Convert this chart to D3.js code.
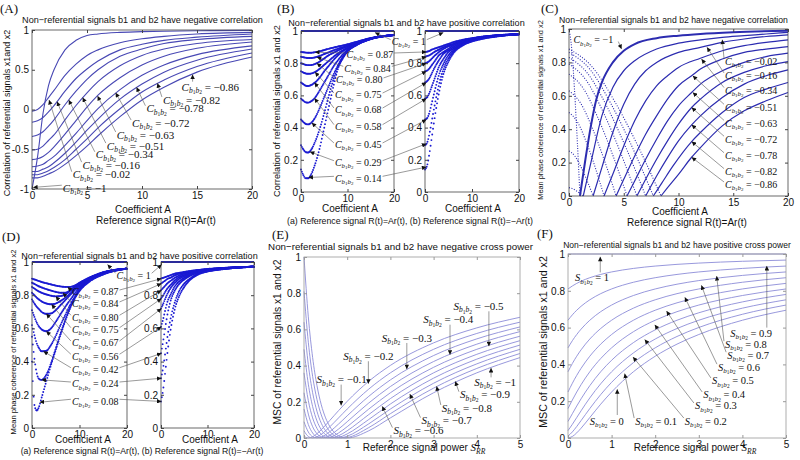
<!DOCTYPE html>
<html><head><meta charset="utf-8">
<script src="https://cdn.jsdelivr.net/npm/d3@7"></script>
<style>body{margin:0;background:#fff}svg{display:block}</style>
</head><body>
<svg id="c" width="800" height="460"></svg>
<script>
// ---------------- DATA ----------------
// Panel A: correlation vs coefficient A (negative b1,b2 correlation)
const aA = [0,0.5,1,1.5,2,3,4,5,6,8,10,12,15,20];
const aCorr = [
 [-1,-0.6,-0.05,0.3,0.5,0.75,0.87,0.93,0.95,0.97,0.98,0.985,0.99,0.995],
 [-0.02,0,0.06,0.15,0.24,0.43,0.57,0.68,0.75,0.84,0.89,0.92,0.95,0.97],
 [-0.16,-0.14,-0.10,-0.03,0.05,0.23,0.39,0.51,0.61,0.75,0.82,0.87,0.91,0.95],
 [-0.34,-0.32,-0.28,-0.21,-0.13,0.06,0.23,0.38,0.50,0.67,0.76,0.83,0.88,0.92],
 [-0.51,-0.50,-0.46,-0.39,-0.32,-0.13,0.05,0.21,0.35,0.55,0.68,0.76,0.83,0.88],
 [-0.63,-0.62,-0.59,-0.54,-0.47,-0.31,-0.14,0.03,0.18,0.40,0.56,0.67,0.77,0.85],
 [-0.72,-0.71,-0.69,-0.64,-0.59,-0.45,-0.30,-0.14,0.01,0.25,0.43,0.56,0.69,0.80],
 [-0.78,-0.78,-0.75,-0.72,-0.67,-0.55,-0.41,-0.26,-0.12,0.13,0.32,0.47,0.62,0.76],
 [-0.82,-0.82,-0.80,-0.77,-0.73,-0.63,-0.50,-0.37,-0.23,0.01,0.22,0.37,0.54,0.71],
 [-0.86,-0.86,-0.84,-0.81,-0.78,-0.69,-0.58,-0.46,-0.33,-0.09,0.12,0.28,0.47,0.66]
];
const annA = [
 {t:"−1", lab:[2.8,-0.99], tip:[0.1,-0.98]},
 {t:"−0.02", lab:[3.7,-0.82], tip:[1.55,0.12]},
 {t:"−0.16", lab:[4.6,-0.70], tip:[2.28,0.10]},
 {t:"−0.34", lab:[5.8,-0.57], tip:[3.34,0.12]},
 {t:"−0.51", lab:[6.8,-0.46], tip:[4.6,0.15]},
 {t:"−0.63", lab:[7.7,-0.32], tip:[5.96,0.17]},
 {t:"−0.72", lab:[9.1,-0.17], tip:[7.6,0.21]},
 {t:"−0.78", lab:[10.4,0.01], tip:[9.5,0.28]},
 {t:"−0.82", lab:[11.9,0.12], tip:[11.4,0.33]},
 {t:"−0.86", lab:[13.6,0.28], tip:[14.6,0.44], from:[14.6,0.35]}
];

// Panel B: correlation, positive b1,b2 correlation; (a) R=Ar, (b) R=-Ar
const bA = [0,0.5,1,1.5,2,3,4,5,6,7,8,9,10,12,15,20];
const bLeft = [
 [.87,.868,.866,.865,.865,.868,.874,.882,.89,.897,.904,.91,.917,.933,.956,.975],
 [.84,.837,.834,.832,.832,.836,.845,.857,.868,.88,.89,.90,.91,.93,.955,.975],
 [.80,.795,.79,.788,.788,.795,.81,.83,.85,.865,.88,.893,.905,.928,.954,.975],
 [.75,.742,.736,.734,.735,.745,.765,.79,.815,.84,.862,.88,.895,.925,.953,.975],
 [.68,.67,.66,.658,.662,.68,.71,.75,.785,.82,.85,.875,.895,.925,.953,.975],
 [.58,.567,.557,.555,.56,.585,.63,.68,.73,.78,.82,.855,.885,.92,.952,.975],
 [.45,.435,.423,.42,.425,.46,.52,.59,.66,.73,.79,.84,.878,.918,.95,.975],
 [.29,.265,.248,.245,.255,.31,.39,.49,.60,.70,.78,.835,.875,.915,.95,.975],
 [.14,.105,.085,.085,.10,.17,.27,.40,.53,.66,.77,.83,.872,.913,.95,.975]
];
const bAr = [0,0.5,1,1.5,2,3,4,5,6,8,10,12,15,20];
const bRight = [
 [.87,.872,.877,.885,.89,.90,.91,.92,.93,.945,.955,.964,.973,.98],
 [.84,.845,.85,.86,.87,.885,.90,.91,.92,.942,.953,.963,.972,.98],
 [.80,.805,.815,.83,.845,.87,.89,.905,.915,.94,.952,.962,.972,.98],
 [.75,.755,.77,.79,.81,.85,.87,.89,.91,.935,.95,.96,.97,.98],
 [.68,.69,.71,.74,.77,.82,.86,.88,.90,.93,.947,.958,.97,.98],
 [.58,.59,.62,.66,.70,.78,.83,.87,.89,.925,.945,.957,.969,.98],
 [.45,.46,.50,.56,.62,.73,.80,.85,.88,.92,.94,.955,.968,.98],
 [.29,.31,.37,.45,.53,.67,.77,.83,.87,.915,.94,.955,.967,.98],
 [.14,.17,.25,.35,.45,.62,.74,.81,.86,.91,.935,.95,.965,.98]
];
const annB = [
 {t:"1", lab:[19.5,0.934], tl:[15.9,0.99], tr:[3.9,0.99]},
 {t:"0.87", lab:[9.8,0.851], tl:[3.0,0.868], tr:[0.3,0.87]},
 {t:"0.84", lab:[9.3,0.768], tl:[3.4,0.838], tr:[0.3,0.84]},
 {t:"0.80", lab:[7.5,0.696], tl:[3.4,0.80], tr:[0.3,0.80]},
 {t:"0.75", lab:[7.3,0.602], tl:[3.0,0.745], tr:[0.3,0.75]},
 {t:"0.68", lab:[7.3,0.509], tl:[2.9,0.68], tr:[0.3,0.68]},
 {t:"0.58", lab:[7.3,0.406], tl:[2.9,0.583], tr:[0.3,0.58]},
 {t:"0.45", lab:[7.3,0.292], tl:[2.3,0.43], tr:[0.3,0.45]},
 {t:"0.29", lab:[7.3,0.182], tl:[1.9,0.25], tr:[0.3,0.30]},
 {t:"0.14", lab:[7.3,0.085], tl:[1.6,0.09], tr:[0.3,0.155]}
];

// Panel C: mean phase coherence, negative correlation (falling dotted part, rising solid part)
const cDesc = [
 [[0,1],[0.25,0.88],[0.5,0.64],[0.75,0.34],[1,0]],
 [[0,0.05],[0.33,0.044],[0.65,0.032],[0.98,0.017],[1.3,0]],
 [[0,0.27],[0.55,0.238],[1.1,0.173],[1.65,0.092],[2.2,0]],
 [[0,0.5],[0.8,0.44],[1.6,0.32],[2.4,0.17],[3.2,0]],
 [[0,0.63],[1.08,0.554],[2.15,0.403],[3.23,0.214],[4.3,0]],
 [[0,0.73],[1.33,0.642],[2.65,0.467],[3.98,0.248],[5.3,0]],
 [[0,0.79],[1.55,0.695],[3.1,0.506],[4.65,0.269],[6.2,0]],
 [[0,0.83],[1.75,0.73],[3.5,0.531],[5.25,0.282],[7,0]],
 [[0,0.86],[1.93,0.757],[3.85,0.55],[5.78,0.292],[7.7,0]],
 [[0,0.88],[2.1,0.774],[4.2,0.563],[6.3,0.299],[8.4,0]]
];
const cRise = [
 [[1,0],[1.5,0.22],[2,0.42],[2.5,0.58],[3,0.68],[4,0.8],[5,0.87],[6,0.91],[8,0.945],[10,0.96],[12,0.97],[15,0.98],[20,0.99]],
 [[1.3,0],[2,0.2],[3,0.48],[4,0.65],[5,0.75],[6,0.81],[8,0.88],[10,0.915],[12,0.935],[14,0.95],[16,0.96],[18,0.97],[20,0.98]],
 [[2.2,0],[3,0.17],[4,0.38],[5,0.55],[6,0.67],[7,0.75],[8,0.8],[10,0.86],[12,0.89],[14,0.92],[16,0.94],[18,0.955],[20,0.965]],
 [[3.2,0],[4,0.13],[5,0.3],[6,0.45],[7,0.57],[8,0.66],[9,0.72],[10,0.77],[12,0.825],[14,0.87],[16,0.9],[18,0.92],[20,0.935]],
 [[4.3,0],[5,0.1],[6,0.24],[7,0.37],[8,0.48],[9,0.58],[10,0.66],[11.2,0.72],[12,0.76],[14,0.82],[16,0.86],[18,0.88],[20,0.895]],
 [[5.3,0],[6,0.09],[7,0.22],[8,0.34],[9,0.45],[10,0.54],[11.2,0.62],[12,0.67],[14,0.75],[16,0.8],[18,0.835],[20,0.855]],
 [[6.2,0],[7,0.1],[8,0.22],[9,0.33],[10,0.43],[11.2,0.53],[12,0.58],[14,0.68],[16,0.74],[18,0.78],[20,0.805]],
 [[7,0],[8,0.12],[9,0.23],[10,0.33],[11.2,0.426],[12,0.48],[14,0.59],[16,0.67],[18,0.72],[20,0.755]],
 [[7.7,0],[8.5,0.08],[9.5,0.18],[11.2,0.326],[12,0.38],[14,0.5],[16,0.59],[18,0.64],[20,0.68]],
 [[8.4,0],[9,0.05],[10,0.13],[11.2,0.232],[12,0.29],[14,0.42],[16,0.51],[18,0.57],[20,0.62]]
];
const annC = [
 {t:"−1", lab:[0.4,0.934], tip:[4.8,0.88], from:[4.5,0.925]},
 {t:"−0.02", lab:[14.25,0.804], tip:[14.0,0.936]},
 {t:"−0.16", lab:[14.25,0.719], tip:[12.6,0.89]},
 {t:"−0.34", lab:[14.25,0.631], tip:[12.1,0.82]},
 {t:"−0.51", lab:[14.25,0.531], tip:[11.3,0.72]},
 {t:"−0.63", lab:[14.25,0.435], tip:[11.3,0.62]},
 {t:"−0.72", lab:[14.25,0.34], tip:[11.2,0.53]},
 {t:"−0.78", lab:[14.25,0.241], tip:[11.2,0.426]},
 {t:"−0.82", lab:[14.25,0.146], tip:[11.2,0.326]},
 {t:"−0.86", lab:[14.25,0.066], tip:[11.2,0.232]}
];

// Panel D: mean phase coherence, positive correlation
const dA = [0,0.5,1,1.5,2,3,4,5,6,7,8,9,10,12,15,20];
const dLeft = [
 [.90,.895,.89,.885,.88,.872,.865,.858,.853,.85,.85,.858,.875,.905,.938,.96],
 [.875,.868,.86,.853,.847,.837,.828,.82,.815,.815,.828,.852,.872,.903,.937,.96],
 [.85,.84,.83,.822,.815,.805,.797,.793,.795,.805,.825,.848,.868,.90,.936,.96],
 [.815,.80,.785,.773,.763,.75,.745,.75,.765,.785,.81,.84,.862,.898,.935,.96],
 [.775,.75,.73,.715,.70,.688,.69,.71,.74,.77,.80,.83,.855,.895,.934,.96],
 [.71,.67,.635,.61,.595,.583,.60,.64,.685,.73,.77,.81,.845,.892,.932,.96],
 [.62,.56,.51,.48,.462,.465,.50,.555,.62,.68,.74,.79,.835,.888,.93,.96],
 [.55,.42,.33,.295,.29,.32,.39,.48,.57,.65,.725,.785,.83,.885,.928,.96],
 [.40,.14,.105,.13,.18,.28,.38,.47,.56,.645,.72,.78,.825,.88,.925,.96]
];
const dAr = [0,0.5,1,1.5,2,3,4,5,6,8,10,12,15,20];
const dRight = [
 [.90,.905,.91,.915,.92,.93,.935,.94,.945,.952,.958,.962,.967,.972],
 [.87,.88,.89,.90,.905,.92,.93,.935,.94,.95,.956,.961,.966,.972],
 [.83,.845,.86,.875,.885,.905,.92,.93,.937,.948,.955,.96,.966,.972],
 [.78,.80,.825,.845,.86,.89,.91,.922,.932,.945,.953,.959,.965,.972],
 [.72,.75,.785,.815,.84,.875,.90,.915,.927,.943,.952,.958,.965,.972],
 [.61,.66,.72,.77,.80,.855,.885,.905,.92,.94,.95,.957,.964,.972],
 [.45,.53,.62,.70,.76,.83,.87,.895,.913,.937,.948,.956,.964,.972],
 [.30,.37,.47,.57,.65,.76,.83,.87,.895,.93,.945,.954,.962,.972],
 [.16,.24,.36,.48,.58,.72,.80,.85,.885,.925,.943,.952,.962,.972]
];
const annD = [
 {t:"1", lab:[17.8,0.92], tl:[15.9,0.985], tr:[0.15,0.985]},
 {t:"0.87", lab:[8.4,0.819], tl:[7.5,0.85], tr:[0.1,0.90]},
 {t:"0.84", lab:[8.4,0.747], tl:[6.5,0.815], tr:[0.1,0.87]},
 {t:"0.80", lab:[8.4,0.667], tl:[5.0,0.793], tr:[0.1,0.83]},
 {t:"0.75", lab:[8.4,0.592], tl:[4.1,0.745], tr:[0.1,0.78]},
 {t:"0.67", lab:[8.4,0.512], tl:[3.0,0.688], tr:[0.1,0.72]},
 {t:"0.56", lab:[8.4,0.432], tl:[3.0,0.583], tr:[0.1,0.61]},
 {t:"0.42", lab:[8.4,0.351], tl:[2.4,0.462], tr:[0.1,0.45]},
 {t:"0.24", lab:[8.4,0.265], tl:[2.0,0.29], tr:[0.1,0.30]},
 {t:"0.08", lab:[8.4,0.161], tl:[1.6,0.155], tr:[0.1,0.16]}
];

// Panel E: MSC vs reference power, negative cross power
const eX = [0,0.1,0.2,0.3,0.4,0.5,0.6,0.7,0.8,0.9,1,1.5,2,3,4,5];
const eMSC = [
 [0.01,0,0.0069,0.0237,0.0459,0.0711,0.0977,0.1246,0.1512,0.1773,0.2025,0.3136,0.4011,0.5256,0.6084,0.6669],
 [0.04,0.0083,0,0.0059,0.0204,0.04,0.0625,0.0865,0.1111,0.1357,0.16,0.2704,0.36,0.49,0.5776,0.64],
 [0.09,0.0331,0.0069,0,0.0051,0.0178,0.0352,0.0554,0.0772,0.0997,0.1225,0.2304,0.3211,0.4556,0.5476,0.6136],
 [0.16,0.0744,0.0278,0.0059,0,0.0044,0.0156,0.0311,0.0494,0.0693,0.09,0.1936,0.2844,0.4225,0.5184,0.5878],
 [0.25,0.1322,0.0625,0.0237,0.0051,0,0.0039,0.0138,0.0278,0.0443,0.0625,0.16,0.25,0.3906,0.49,0.5625],
 [0.36,0.2066,0.1111,0.0533,0.0204,0.0044,0,0.0035,0.0123,0.0249,0.04,0.1296,0.2178,0.36,0.4624,0.5378],
 [0.49,0.2975,0.1736,0.0947,0.0459,0.0178,0.0039,0,0.0031,0.0111,0.0225,0.1024,0.1878,0.3306,0.4356,0.5136],
 [0.64,0.405,0.25,0.1479,0.0816,0.04,0.0156,0.0035,0,0.0028,0.01,0.0784,0.16,0.3025,0.4096,0.49],
 [0.81,0.5289,0.3403,0.213,0.1276,0.0711,0.0352,0.0138,0.0031,0,0.0025,0.0576,0.1344,0.2756,0.3844,0.4669],
 [1,0.6694,0.4444,0.2899,0.1837,0.1111,0.0625,0.0311,0.0123,0.0028,0,0.04,0.1111,0.25,0.36,0.4444]
];
const annE = [
 {t:"−0.1", lab:[0.29,0.322], tip:[0.86,0.18], from:[0.86,0.295]},
 {t:"−0.2", lab:[0.91,0.451], tip:[1.49,0.30], from:[1.49,0.424]},
 {t:"−0.3", lab:[1.80,0.552], tip:[2.38,0.38], from:[2.38,0.525]},
 {t:"−0.4", lab:[2.76,0.654], tip:[3.38,0.46], from:[3.38,0.626]},
 {t:"−0.5", lab:[3.46,0.727], tip:[4.28,0.507], from:[4.28,0.70]},
 {t:"−0.6", lab:[2.07,0.041], tip:[1.81,0.175]},
 {t:"−0.7", lab:[2.72,0.096], tip:[2.45,0.243]},
 {t:"−0.8", lab:[3.19,0.166], tip:[3.07,0.286]},
 {t:"−0.9", lab:[3.61,0.239], tip:[3.5,0.313]},
 {t:"−1", lab:[3.94,0.309], tip:[4.33,0.387], from:[4.33,0.335]}
];

// Panel F: MSC, positive cross power
const fX = [0,0.1,0.2,0.3,0.5,0.75,1,1.5,2,2.5,3,4,5];
const fMSC = [
 [0,.0083,.0278,.0533,.1111,.1837,.25,.36,.4444,.5102,.5625,.64,.6944],
 [.01,.0331,.0625,.0947,.16,.2359,.3025,.4096,.49,.5518,.6006,.6724,.7225],
 [.04,.0744,.1111,.1479,.2178,.2947,.36,.4624,.5378,.5951,.64,.7056,.7511],
 [.09,.1322,.1736,.213,.2844,.36,.4225,.5184,.5878,.64,.6806,.7396,.7803],
 [.16,.2066,.25,.2899,.36,.4318,.49,.5776,.64,.6865,.7225,.7744,.81],
 [.25,.2975,.3403,.3787,.4444,.5102,.5625,.64,.6944,.7347,.7656,.81,.8403],
 [.36,.405,.4444,.4793,.5378,.5951,.64,.7056,.7511,.7845,.81,.8464,.8711],
 [.49,.5289,.5625,.5917,.64,.6865,.7225,.7744,.81,.8359,.8556,.8836,.9025],
 [.64,.6694,.6944,.716,.7511,.7845,.81,.8464,.8711,.889,.9025,.9216,.9344],
 [.81,.8264,.8403,.8521,.8711,.889,.9025,.9216,.9344,.9437,.9506,.9604,.9669],
 [1,1,1,1,1,1,1,1,1,1,1,1,1]
];
const annF = [
 {t:"0", lab:[0.5,0.092], tip:[1.13,0.265], from:[1.13,0.125]},
 {t:"0.1", lab:[1.54,0.092], tip:[1.30,0.35]},
 {t:"0.2", lab:[2.68,0.092], tip:[1.49,0.44]},
 {t:"0.3", lab:[2.91,0.174], tip:[1.76,0.535]},
 {t:"0.4", lab:[3.1,0.234], tip:[1.99,0.615]},
 {t:"0.5", lab:[3.3,0.31], tip:[2.26,0.69]},
 {t:"0.6", lab:[3.44,0.385], tip:[2.68,0.765]},
 {t:"0.7", lab:[3.65,0.45], tip:[3.06,0.83]},
 {t:"0.8", lab:[3.60,0.51], tip:[3.41,0.88]},
 {t:"0.9", lab:[3.72,0.57], tip:[4.56,0.935], from:[4.56,0.60]},
 {t:"1", lab:[0.16,0.87], tip:[0.74,0.985], from:[0.74,0.90]}
];

// ---------------- DRAWING ----------------
const svg = d3.select("#c");
const SANS = "'Liberation Sans',Arial,Helvetica,sans-serif";
const SER = "'Liberation Serif','DejaVu Serif','Times New Roman',serif";
svg.append("defs").append("marker").attr("id","ah").attr("viewBox","0 0 10 10")
  .attr("refX",10).attr("refY",5).attr("markerUnits","userSpaceOnUse")
  .attr("markerWidth",5).attr("markerHeight",4.5).attr("orient","auto")
  .append("path").attr("d","M0,0L10,5L0,10z").attr("fill","#111");

function frame(o){
  const x = d3.scaleLinear().domain(o.xd).range([o.l,o.r]);
  const y = d3.scaleLinear().domain(o.yd).range([o.b,o.t]);
  const g = svg.append("g");
  const cg = g.append("g");
  const ag = g.append("g");
  const fmt = d => String(d);
  const mk = (gen,tr) => {
    const a = ag.append("g").attr("transform",tr).call(gen);
    a.select(".domain").remove();
    a.selectAll(".tick line").attr("stroke",o.box);
    a.selectAll(".tick text").attr("font-size",10).attr("fill","#111").attr("font-family",SANS);
  };
  mk(d3.axisBottom(x).tickValues(o.xt).tickSize(-3).tickPadding(3).tickFormat(fmt),`translate(0,${o.b})`);
  mk(d3.axisTop(x).tickValues(o.xt).tickSize(-3).tickFormat(""),`translate(0,${o.t})`);
  mk(d3.axisLeft(y).tickValues(o.yt).tickSize(-3).tickPadding(3).tickFormat(fmt),`translate(${o.l},0)`);
  mk(d3.axisRight(y).tickValues(o.yt).tickSize(-3).tickFormat(""),`translate(${o.r},0)`);
  ag.append("rect").attr("x",o.l).attr("y",o.t).attr("width",o.r-o.l).attr("height",o.b-o.t)
    .attr("fill","none").attr("stroke",o.box).attr("stroke-width",0.8);
  return {x,y,g:cg};
}
const lineOf = p => d3.line().x(d=>p.x(d[0])).y(d=>p.y(d[1])).curve(d3.curveMonotoneX);
const zip = (xs,ys) => xs.map((v,i)=>[v,ys[i]]);
function curve(p, pts, color, w, dash){
  const s = p.g.append("path").attr("d",lineOf(p)(pts)).attr("fill","none")
    .attr("stroke",color).attr("stroke-width",w);
  if (dash) s.attr("stroke-dasharray",dash);
}
// marker-style series: one dot per fixed horizontal step, along the drawn curve
function dots(p, pts, color, r, dx){
  const node = p.g.append("path").attr("d",lineOf(p)(pts)).attr("fill","none").attr("stroke","none").node();
  const L = node.getTotalLength();
  const out = [];
  let nx = p.x(pts[0][0]);
  for (let s=0; s<=L; s+=0.3){
    const q = node.getPointAtLength(s);
    if (q.x >= nx - 1e-6){ out.push([q.x,q.y]); nx += dx; }
  }
  p.g.append("g").selectAll("circle").data(out).join("circle")
    .attr("cx",d=>d[0]).attr("cy",d=>d[1]).attr("r",r).attr("fill",color);
}
// text whose font size is scaled so that its natural width equals w
function txt(x,y,s,o={}){
  const t = svg.append("text").attr("x",x).attr("y",y).text(s)
    .attr("font-size",o.fs||10).attr("text-anchor",o.anchor||"middle")
    .attr("font-family",o.ff||SANS).attr("fill","#111");
  if (o.w){
    const w0 = t.node().getComputedTextLength();
    if (w0>0) t.attr("font-size",(o.fs||10)*o.w/w0);
  }
  if (o.rot) t.attr("transform",`rotate(-90,${x},${y})`);
  return t;
}
function mkLabel(X,Y,sym,val,fs){
  const t = svg.append("text").attr("x",X).attr("y",Y+fs*0.33).attr("font-family",SER)
    .attr("font-size",fs).attr("fill","#111");
  t.append("tspan").attr("font-style","italic").text(sym);
  const s1 = fs*0.68, s2 = fs*0.5;
  t.append("tspan").attr("font-style","italic").attr("font-size",s1).attr("dy",fs*0.22).text("b");
  t.append("tspan").attr("font-size",s2).attr("dy",fs*0.1).text("1");
  t.append("tspan").attr("font-style","italic").attr("font-size",s1).attr("dy",-fs*0.1).text("b");
  t.append("tspan").attr("font-size",s2).attr("dy",fs*0.1).text("2");
  t.append("tspan").attr("dy",-fs*0.32).text(" = "+val);
  return t;
}
function arrow(x1,y1,x2,y2){
  svg.append("line").attr("x1",x1).attr("y1",y1).attr("x2",x2).attr("y2",y2)
    .attr("stroke","#555").attr("stroke-width",0.6).attr("marker-end","url(#ah)");
}
function annotate(p, list, sym, fs){
  list.forEach(a=>{
    const X = p.x(a.lab[0]), Y = p.y(a.lab[1]);
    mkLabel(X,Y,sym,a.t,fs);
    const f = a.from ? [p.x(a.from[0]),p.y(a.from[1])] : [X-1,Y-3];
    arrow(f[0],f[1],p.x(a.tip[0]),p.y(a.tip[1]));
  });
}
function annotate2(pl, pr, list, sym, fs){
  list.forEach(a=>{
    const X = pl.x(a.lab[0]), Y = pl.y(a.lab[1]);
    const t = mkLabel(X,Y,sym,a.t,fs);
    const w = t.node().getComputedTextLength();
    arrow(X-1,Y-2,pl.x(a.tl[0]),pl.y(a.tl[1]));
    arrow(X+w+1,Y-2,pr.x(a.tr[0]),pr.y(a.tr[1]));
  });
}

const yt01 = [0,0.2,0.4,0.6,0.8,1];
// ---- Panel A ----
const pA = frame({l:32,r:252,t:30,b:189,xd:[0,20],yd:[-1,1],xt:[0,5,10,15,20],yt:[-1,-0.5,0,0.5,1],box:"#444"});
aCorr.forEach(ys=>curve(pA,zip(aA,ys),"#4848b4",1.1));
// ---- Panel B ----
const pBL = frame({l:301,r:394,t:31,b:192,xd:[0,20],yd:[0,1],xt:[0,10,20],yt:yt01,box:"#444"});
const pBR = frame({l:425,r:519,t:31,b:192,xd:[0,20],yd:[0,1],xt:[0,10,20],yt:yt01,box:"#444"});
[pBL,pBR].forEach(p=>curve(p,[[0,1],[20,1]],"#1a1ad2",1.8));
bLeft.forEach(ys=>dots(pBL,zip(bA,ys),"#1a1ad2",0.95,0.8));
bRight.forEach(ys=>dots(pBR,zip(bAr,ys),"#1a1ad2",0.95,0.8));
// ---- Panel C ----
const pC = frame({l:569,r:788,t:29,b:196,xd:[0,20],yd:[0,1],xt:[0,5,10,15,20],yt:yt01,box:"#444"});
cDesc.forEach(pts=>curve(pC,pts,"#2c2cb0",1.1,"1,1.6"));
cRise.forEach((pts,i)=>curve(pC,pts,"#2c2cb0",i===0?2:1.2));
// ---- Panel D ----
const pDL = frame({l:32,r:127,t:262,b:428,xd:[0,20],yd:[0,1],xt:[0,10,20],yt:yt01,box:"#444"});
const pDR = frame({l:161,r:254,t:262,b:428,xd:[0,20],yd:[0,1],xt:[0,10,20],yt:yt01,box:"#444"});
[pDL,pDR].forEach(p=>curve(p,[[0,1],[20,1]],"#1a1ad2",1.8));
dLeft.forEach(ys=>dots(pDL,zip(dA,ys),"#1a1ad2",0.95,0.8));
dRight.forEach(ys=>dots(pDR,zip(dAr,ys),"#1a1ad2",0.95,0.8));
// ---- Panel E ----
const pE = frame({l:304,r:520,t:257,b:438,xd:[0,5],yd:[0,1],xt:[0,1,2,3,4,5],yt:yt01,box:"#999"});
eMSC.forEach(ys=>curve(pE,zip(eX,ys),"#8c8cd8",0.9));
// ---- Panel F ----
const pF = frame({l:568,r:786,t:254,b:438,xd:[0,5],yd:[0,1],xt:[0,1,2,3,4,5],yt:yt01,box:"#999"});
fMSC.forEach(ys=>curve(pF,zip(fX,ys),"#8c8cd8",0.9));

// ---- annotations ----
annotate(pA, annA, "C", 11);
annotate2(pBL, pBR, annB, "C", 10);
annotate(pC, annC, "C", 10);
annotate2(pDL, pDR, annD, "C", 10);
annotate(pE, annE, "S", 11);
annotate(pF, annF, "S", 10.5);

// ---- texts ----
const panelLetters = [["(A)",0,13],["(B)",277,13],["(C)",541,13],["(D)",2,241],["(E)",272,239],["(F)",537,238]];
panelLetters.forEach(d=>txt(d[1],d[2],d[0],{fs:13,ff:SER,anchor:"start"}));

txt(142.5,23,"Non−referential signals b1 and b2 have negative correlation",{fs:9.5,w:241});
txt(406.5,26,"Non−referential signals b1 and b2 have positive correlation",{fs:9.5,w:237});
txt(673.5,23,"Non−referential signals b1 and b2 have negative correlation",{fs:9.5,w:229});
txt(139.5,259,"Non−referential signals b1 and b2 have positive correlation",{fs:9.5,w:237});
txt(400.5,250,"Non−referential signals b1 and b2 have negative cross power",{fs:9.5,w:265});
txt(677,248,"Non−referential signals b1 and b2 have positive cross power",{fs:9.5,w:228});

txt(9.5,113,"Correlation of referential signals x1and x2",{fs:9,w:167,rot:true});
txt(280,111,"Correlation of referential signals x1 and x2",{fs:9,w:172,rot:true});
txt(543,110,"Mean phase coherence of referential signals x1 and x2",{fs:7.5,w:180,rot:true});
txt(16,342,"Mean phase coherence of referential signals x1 and x2",{fs:7.5,w:185,rot:true});
txt(281,342,"MSC of referential signals x1 and x2",{fs:9.5,w:165,rot:true});
txt(547,342,"MSC of referential signals x1 and x2",{fs:9.5,w:172,rot:true});

txt(143,213,"Coefficient A",{fs:10});
txt(156,224,"Reference signal R(t)=Ar(t)",{fs:10});
txt(350,212,"Coefficient A",{fs:10});
txt(473,212,"Coefficient A",{fs:10});
txt(410,224,"(a) Reference signal R(t)=Ar(t),  (b) Reference signal R(t)=−Ar(t)",{fs:9.5,w:246});
txt(680,215,"Coefficient A",{fs:10});
txt(687,226,"Reference signal R(t)=Ar(t)",{fs:10});
txt(83,443,"Coefficient A",{fs:10});
txt(210,443,"Coefficient A",{fs:10});
txt(142,454,"(a) Reference signal R(t)=Ar(t),  (b) Reference signal R(t)=−Ar(t)",{fs:9.5,w:243});
function srr(cx,y){
  const t = svg.append("text").attr("x",cx).attr("y",y).attr("text-anchor","middle")
    .attr("font-family",SANS).attr("font-size",10).attr("fill","#111");
  t.append("tspan").text("Reference signal power ");
  t.append("tspan").attr("font-family",SER).attr("font-style","italic").attr("font-size",11).text("S");
  t.append("tspan").attr("font-family",SER).attr("font-style","italic").attr("font-size",7.5).attr("dy",2.5).text("RR");
}
srr(424,451);
srr(695,451);
</script>
</body></html>
